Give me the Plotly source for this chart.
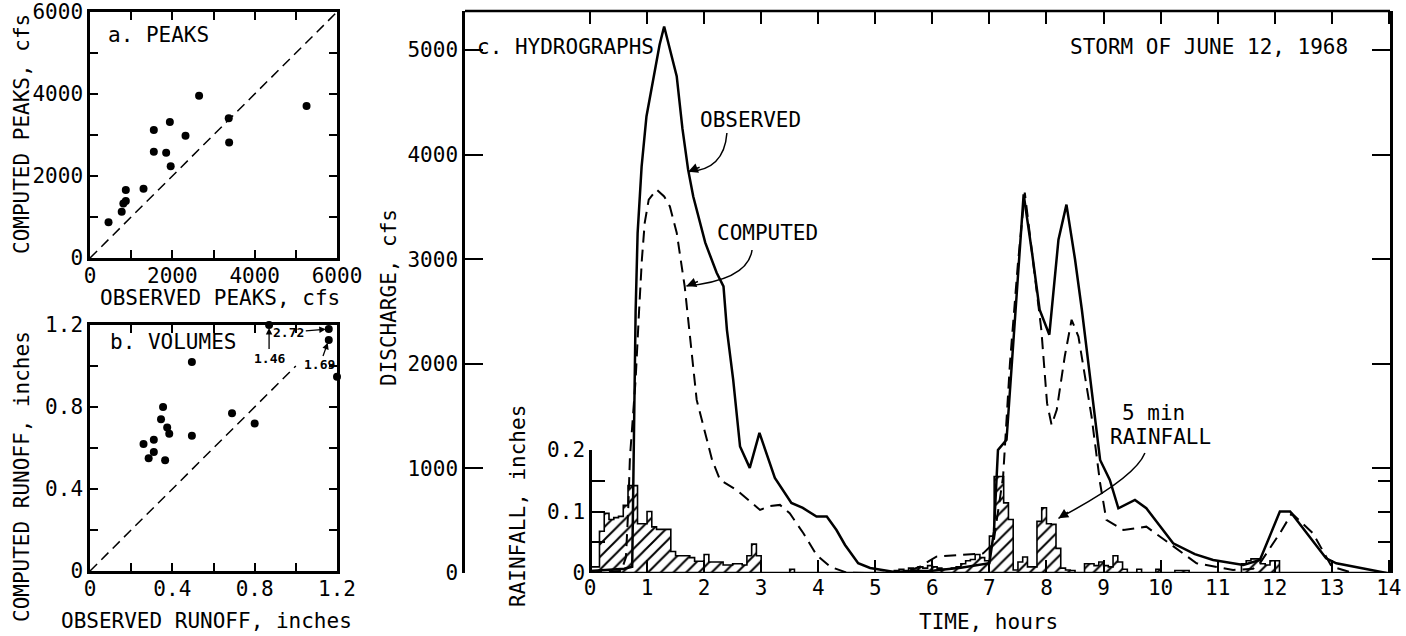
import plotly.graph_objects as go

W, H = 1406, 636
FONT = "DejaVu Sans Mono"

# ---------------- data ----------------
# a. PEAKS (cfs)
peaks_observed = [450, 770, 810, 870, 870, 1300, 1550, 1550, 1850, 1940, 1960, 2320, 2650, 3370, 3380, 5260]
peaks_computed = [870, 1130, 1330, 1390, 1660, 1690, 3120, 2590, 2570, 3320, 2240, 2980, 3960, 3410, 2820, 3710]
peaks_line = [0, 6000]

# b. VOLUMES (inches)
runoff_observed = [0.26, 0.285, 0.31, 0.31, 0.345, 0.355, 0.365, 0.375, 0.385, 0.495, 0.495, 0.69, 0.80]
runoff_computed = [0.62, 0.55, 0.64, 0.58, 0.74, 0.80, 0.54, 0.70, 0.67, 1.02, 0.66, 0.77, 0.72]
offscale_observed = [0.87, 1.16, 1.16, 1.20]
offscale_computed = [1.20, 1.18, 1.127, 0.948]
offscale_labels = ["1.46", "2.72", "1.69"]
runoff_line = [0, 1.0]

# c. HYDROGRAPHS
obs_time = [0.0, 0.3, 0.6, 0.74, 0.76, 0.775, 0.80, 0.835, 0.905, 0.99, 1.11, 1.22, 1.30, 1.40, 1.52,
            1.62, 1.72, 1.81, 2.02, 2.22, 2.34, 2.40, 2.51, 2.63, 2.80, 2.97, 3.24, 3.53, 3.73, 3.97,
            4.15, 4.32, 4.47, 4.70, 4.91, 5.31, 5.6, 6.0, 6.5, 7.0, 7.08, 7.15, 7.30, 7.45, 7.60,
            7.75, 7.88, 8.05, 8.21, 8.35, 8.50, 8.62, 8.82, 8.94, 9.11, 9.26, 9.55, 9.75, 10.22,
            10.6, 10.92, 11.45, 11.74, 12.09, 12.27, 12.9, 13.08, 13.96]
obs_discharge = [20, 30, 40, 60, 1000, 1800, 2500, 3250, 3885, 4365, 4718, 5050, 5225, 5005, 4750,
                 4250, 3856, 3600, 3158, 2870, 2740, 2325, 1847, 1209, 1005, 1340, 909, 670, 622, 539,
                 539, 411, 268, 93, 48, 12, 15, 22, 50, 93, 400, 1177, 1273, 2430, 3620,
                 3050, 2517, 2278, 3187, 3522, 3000, 2517, 1625, 1081, 890, 619, 699, 619, 284,
                 180, 124, 76, 124, 587, 587, 140, 93, 0]

comp_time = [0.0, 0.3, 0.55, 0.63, 0.67, 0.70, 0.75, 0.80, 0.86, 0.91, 0.96, 1.03, 1.17, 1.30, 1.40,
             1.52, 1.66, 1.72, 1.87, 2.14, 2.28, 2.57, 2.98, 3.15, 3.33, 3.50, 3.74, 3.97, 4.21,
             4.50, 5.0, 5.5, 5.78, 6.07, 6.48, 6.89, 7.07, 7.24, 7.36, 7.50, 7.62, 7.74, 7.91, 8.01,
             8.09, 8.18, 8.32, 8.44, 8.56, 8.79, 8.94, 9.05, 9.35, 9.75, 10.22, 10.63, 11.27,
             11.62, 11.74, 12.09, 12.30, 12.67, 13.0, 13.38, 14.0]
comp_discharge = [5, 10, 20, 150, 600, 1100, 1500, 1850, 2500, 3000, 3350, 3570, 3665, 3600, 3505,
                  3254, 2740, 2421, 1655, 1081, 890, 794, 603, 640, 651, 571, 380, 172, 60,
                  3, 0, 5, 60, 156, 172, 188, 284, 922, 2007, 2963, 3636, 3091, 2325, 1624,
                  1416, 1560, 2070, 2421, 2261, 1496, 858, 507, 411, 443, 252, 93, 29,
                  40, 93, 380, 571, 380, 60, 0, 0]

# 5-minute rainfall (inches), one row per hour, 12 intervals each
rain_by_hour = [
    [0.010, 0.010, 0.068, 0.097, 0.087, 0.090, 0.092, 0.110, 0.142, 0.142, 0.080, 0.080],
    [0.100, 0.075, 0.071, 0.071, 0.071, 0.035, 0.028, 0.028, 0.028, 0.025, 0.019, 0.019],
    [0.030, 0.018, 0.018, 0.018, 0.013, 0.013, 0.015, 0.015, 0.013, 0.028, 0.047, 0.028],
    [0, 0, 0, 0, 0, 0, 0.006, 0, 0, 0, 0, 0],
    [0, 0, 0, 0, 0, 0, 0, 0, 0, 0, 0, 0],
    [0, 0, 0, 0, 0.004, 0.006, 0.004, 0.008, 0.005, 0.010, 0.008, 0.012],
    [0.010, 0.008, 0.006, 0.006, 0.008, 0.010, 0.015, 0.020, 0.022, 0.030, 0.025, 0.020],
    [0.060, 0.157, 0.157, 0.114, 0.087, 0.005, 0.018, 0.026, 0.010, 0.010, 0.084, 0.106],
    [0.080, 0.079, 0.040, 0.008, 0.005, 0.004, 0, 0, 0.015, 0.015, 0.012, 0.018],
    [0.012, 0.010, 0.028, 0.018, 0.006, 0, 0, 0.006, 0, 0, 0, 0.006],
    [0, 0, 0, 0.004, 0.004, 0.004, 0, 0, 0, 0, 0, 0],
    [0, 0, 0, 0, 0, 0.015, 0.020, 0.023, 0.023, 0.015, 0.013, 0.020],
    [0.020, 0, 0, 0, 0, 0, 0, 0, 0, 0, 0, 0],
    [0, 0, 0, 0, 0, 0, 0, 0, 0, 0, 0, 0],
]
rain_start = []
rain_depth = []
for h, row in enumerate(rain_by_hour):
    for i, v in enumerate(row):
        rain_start.append(h + i / 12)
        rain_depth.append(v)

time_ticks = list(range(0, 15))
discharge_ticks = [0, 1000, 2000, 3000, 4000, 5000]
rain_ticks = [0, 0.05, 0.1, 0.15, 0.2]
rain_ticktext = ["0", "", "0.1", "", "0.2"]


def px(x):
    return x / W


def py(y):
    return 1 - y / H


fig = go.Figure()

# panel a
fig.add_trace(go.Scatter(x=peaks_line, y=peaks_line, mode="lines", xaxis="x", yaxis="y",
                         line=dict(color="black", width=1.5, dash="10px,6px"), showlegend=False))
fig.add_trace(go.Scatter(x=peaks_observed, y=peaks_computed, mode="markers", xaxis="x", yaxis="y",
                         marker=dict(color="black", size=8), showlegend=False))
# panel b
fig.add_trace(go.Scatter(x=runoff_line, y=runoff_line, mode="lines", xaxis="x2", yaxis="y2",
                         line=dict(color="black", width=1.5, dash="10px,6px"), showlegend=False))
fig.add_trace(go.Scatter(x=runoff_observed + offscale_observed, y=runoff_computed + offscale_computed,
                         mode="markers", xaxis="x2", yaxis="y2", cliponaxis=False,
                         marker=dict(color="black", size=8), showlegend=False))

# panel c rainfall: hatched bars + stepped outline
fig.add_trace(go.Bar(x=rain_start, y=rain_depth, width=1 / 12, offset=0, xaxis="x3", yaxis="y4",
                     marker=dict(color="rgba(0,0,0,0)", line=dict(width=0),
                                 pattern=dict(shape="/", fgcolor="black", bgcolor="rgba(0,0,0,0)",
                                              size=9, solidity=0.22, fillmode="replace")),
                     showlegend=False))
fig.add_trace(go.Scatter(x=rain_start + [rain_start[-1] + 1 / 12], y=rain_depth + [rain_depth[-1]],
                         mode="lines", line=dict(color="black", width=1.6, shape="hv"),
                         xaxis="x3", yaxis="y4", showlegend=False))
# dummy for mirrored rain ticks axis
fig.add_trace(go.Scatter(x=[None], y=[None], xaxis="x3", yaxis="y5", showlegend=False))
# hydrographs
fig.add_trace(go.Scatter(x=comp_time, y=comp_discharge, mode="lines", xaxis="x3", yaxis="y3",
                         line=dict(color="black", width=2, dash="12px,7px"), showlegend=False))
fig.add_trace(go.Scatter(x=obs_time, y=obs_discharge, mode="lines", xaxis="x3", yaxis="y3",
                         line=dict(color="black", width=2.5), showlegend=False))

tickfont = dict(family=FONT, size=21, color="black")
common = dict(showgrid=False, zeroline=False, ticks="inside", tickcolor="black", tickwidth=2,
              linecolor="black", linewidth=2.5, tickfont=tickfont, automargin=False)

fig.update_layout(
    template="none",
    width=W, height=H, margin=dict(l=0, r=0, t=0, b=0, pad=0), autosize=False,
    paper_bgcolor="white", plot_bgcolor="rgba(0,0,0,0)",
    font=dict(family=FONT, size=21, color="black"),
    showlegend=False, bargap=0,
    xaxis=dict(domain=[px(90), px(337)], range=[0, 6000], anchor="y",
               tickvals=[0, 1000, 2000, 3000, 4000, 5000, 6000],
               ticktext=["0", "", "2000", "", "4000", "", "6000"],
               ticklen=8, showline=True, mirror="ticks", ticklabelstandoff=-3, **common),
    yaxis=dict(domain=[py(258), py(12)], range=[0, 6000], anchor="x",
               tickvals=[0, 1000, 2000, 3000, 4000, 5000, 6000],
               ticktext=["0", "", "2000", "", "4000", "", "6000"],
               ticklen=8, showline=True, mirror="ticks", **common),
    xaxis2=dict(domain=[px(90), px(337)], range=[0, 1.2], anchor="y2",
                tickvals=[0, 0.2, 0.4, 0.6, 0.8, 1.0, 1.2],
                ticktext=["0", "", "0.4", "", "0.8", "", "1.2"],
                ticklen=8, showline=True, mirror="ticks", ticklabelstandoff=-3, **common),
    yaxis2=dict(domain=[py(571), py(325)], range=[0, 1.2], anchor="x2",
                tickvals=[0, 0.2, 0.4, 0.6, 0.8, 1.0, 1.2],
                ticktext=["0", "", "0.4", "", "0.8", "", "1.2"],
                ticklen=8, showline=True, mirror="ticks", **common),
    xaxis3=dict(domain=[px(465), px(1390)], range=[-2.19, 14.02], anchor="y3",
                tickvals=time_ticks, ticklen=13, showline=False, mirror="ticks", **common),
    yaxis3=dict(domain=[py(573), py(11)], range=[0, 5373], anchor="x3",
                tickvals=discharge_ticks, ticklen=18, showline=True, mirror="ticks", **common),
    yaxis4=dict(domain=[py(573), py(450)], range=[0, 0.2], anchor="free", position=px(590),
                tickvals=rain_ticks, ticktext=rain_ticktext, ticklen=13, showline=True, **common),
    yaxis5=dict(overlaying="y4", side="right", anchor="x3", range=[0, 0.2],
                tickvals=rain_ticks[1:], ticklen=12, showline=False, showticklabels=False,
                **{k: v for k, v in common.items() if k != "tickfont"}),
)

shapes = [
    # top border of panel c
    dict(type="line", xref="paper", yref="paper", x0=px(465), x1=px(1390), y0=py(11), y1=py(11),
         line=dict(color="black", width=2.5)),
    # time axis line (starts at t = 0)
    dict(type="line", xref="x3", yref="y3", x0=0, x1=14.02, y0=0, y1=0,
         line=dict(color="black", width=2.5)),
    # curved pointer lines
    dict(type="path", xref="x3", yref="y3", path="M 2.40,4207 Q 2.35,3850 1.72,3837",
         line=dict(color="black", width=1.5)),
    dict(type="path", xref="x3", yref="y3", path="M 2.84,3088 Q 2.77,2801 1.69,2744",
         line=dict(color="black", width=1.5)),
    dict(type="path", xref="x3", yref="y3", path="M 9.725,1147 Q 9.55,908 8.21,523",
         line=dict(color="black", width=1.5)),
]

ann = []


def text(x, y, s, xanchor="center", angle=0, size=21, xref="paper", yref="paper"):
    ann.append(dict(x=x, y=y, xref=xref, yref=yref, text=s,
                    showarrow=False, xanchor=xanchor, yanchor="middle", textangle=angle,
                    font=dict(family=FONT, size=size, color="black")))


text(px(106), py(35), "a. PEAKS", xanchor="left")
text(px(108), py(342), "b. VOLUMES", xanchor="left")
text(px(220), py(298), "OBSERVED PEAKS, cfs")
text(px(206), py(621), "OBSERVED RUNOFF, inches")
text(px(22), py(134), "COMPUTED PEAKS, cfs", angle=-90)
text(px(22), py(477), "COMPUTED RUNOFF, inches", angle=-90)
text(px(389), py(298), "DISCHARGE, cfs", angle=-90)
text(px(518), py(506), "RAINFALL, inches", angle=-90)
text(px(988), py(622), "TIME, hours")
text(px(475), py(47), "c. HYDROGRAPHS", xanchor="left")
text(px(1350), py(47), "STORM OF JUNE 12, 1968", xanchor="right")
text(2.82, 4331, "OBSERVED", xref="x3", yref="y3")
text(3.11, 3250, "COMPUTED", xref="x3", yref="y3")
text(9.88, 1530, "5 min", xref="x3", yref="y3")
text(10.0, 1300, "RAINFALL", xref="x3", yref="y3")

# arrowheads for curved pointers
for (tx, ty, axp, ayp) in [(1.72, 3837, 13, -5), (1.69, 2744, 13, -5), (8.21, 523, 11, -7)]:
    ann.append(dict(x=tx, y=ty, xref="x3", yref="y3", ax=axp, ay=ayp, text="", showarrow=True,
                    arrowhead=2, arrowsize=1.3, arrowwidth=1.5, arrowcolor="black", standoff=0))

# off-scale value labels in panel b
for (ox, oy, lab, axp, ayp) in zip(offscale_observed[:3], offscale_computed[:3], offscale_labels,
                                    [0, -40, -9], [33, 3, 25]):
    ann.append(dict(x=ox, y=oy, xref="x2", yref="y2", ax=axp, ay=ayp, text="<b>%s</b>" % lab,
                    showarrow=True, arrowhead=2, arrowsize=1, arrowwidth=1.3, arrowcolor="black",
                    standoff=3, font=dict(family=FONT, size=13, color="black")))

fig.update_layout(shapes=shapes, annotations=ann)
fig.write_html("out.html")
